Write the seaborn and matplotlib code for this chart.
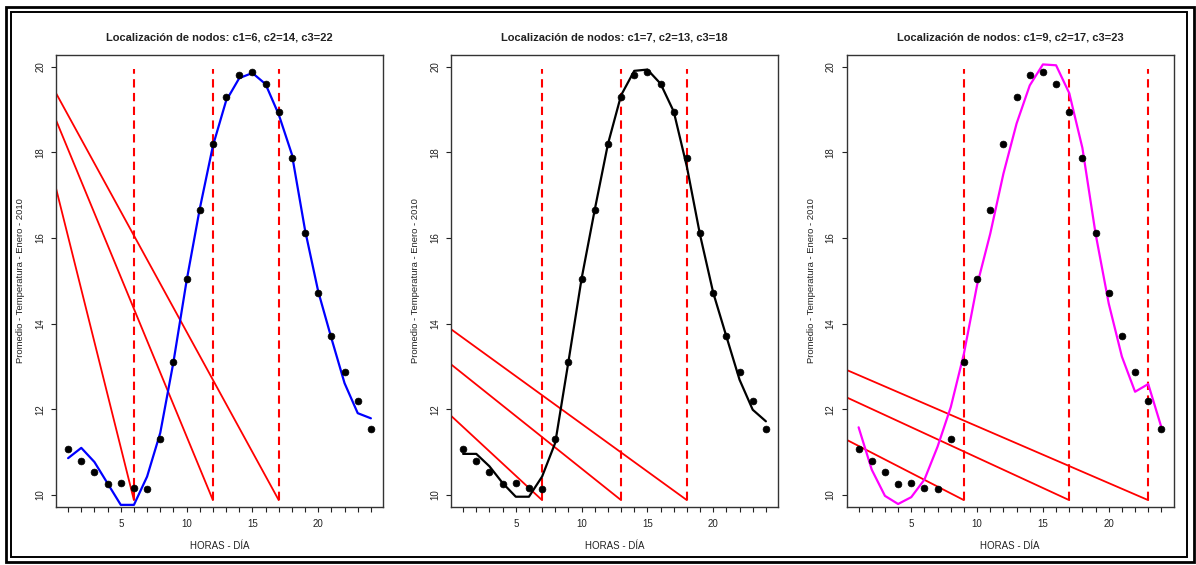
import numpy as np
import pandas as pd
import matplotlib
matplotlib.use("Agg")
import matplotlib.pyplot as plt
import seaborn as sns
from matplotlib.patches import Rectangle

# ---------------- data ----------------
hours = list(range(1, 25))
temp_mean = [11.07, 10.79, 10.54, 10.26, 10.28, 10.16, 10.13, 11.31, 13.11, 15.05, 16.66, 18.19,
             19.28, 19.81, 19.87, 19.60, 18.95, 17.87, 16.11, 14.72, 13.70, 12.86, 12.20, 11.54]

fit_1 = [10.86, 11.10, 10.77, 10.27, 9.77, 9.77, 10.43, 11.45, 13.10, 15.00, 16.68, 18.15,
         19.20, 19.73, 19.85, 19.59, 18.88, 17.95, 16.18, 14.75, 13.66, 12.61, 11.91, 11.79]
fit_2 = [10.96, 10.96, 10.67, 10.28, 9.96, 9.96, 10.43, 11.22, 13.11, 15.05, 16.66, 18.19,
         19.33, 19.90, 19.93, 19.60, 18.95, 17.66, 16.07, 14.72, 13.70, 12.69, 11.99, 11.72]
fit_3 = [11.58, 10.59, 9.98, 9.79, 9.95, 10.36, 11.13, 12.05, 13.30, 14.90, 16.10, 17.50,
         18.67, 19.56, 20.05, 20.03, 19.38, 18.10, 16.10, 14.47, 13.23, 12.41, 12.59, 11.58]

titles = ["Localización de nodos: c1=6, c2=14, c3=22",
          "Localización de nodos: c1=7, c2=13, c3=18",
          "Localización de nodos: c1=9, c2=17, c3=23"]
knots_1 = [6, 12, 17]
knots_2 = [7, 13, 18]
knots_3 = [9, 17, 23]
red_start_1 = [17.16, 18.75, 19.38]
red_start_2 = [11.85, 13.05, 13.87]
red_start_3 = [11.29, 12.28, 12.92]
red_end = 9.88
vline_top = 19.94

fit_colors = ["#0000FF", "#000000", "#FF00FF"]
xlabel = "HORAS - DÍA"
ylabel = "Promedio - Temperatura - Enero - 2010"
yticks = [10, 12, 14, 16, 18, 20]
xticks_lab = [5, 10, 15, 20]

# ---------------- figure ----------------
sns.set_theme(style="ticks")
plt.rcParams['font.family'] = ['Liberation Sans', 'DejaVu Sans']

W, H = 1196, 565
fig = plt.figure(figsize=(W / 100, H / 100), dpi=100)
fig.patch.set_facecolor("white")

# double frame
fig.patches.append(Rectangle((5.5 / W, 3.5 / H), 1188 / W, 555 / H, transform=fig.transFigure,
                             fill=False, lw=2.0, ec="black"))
fig.patches.append(Rectangle((11 / W, 8 / H), 1176 / W, 545 / H, transform=fig.transFigure,
                             fill=False, lw=1.4, ec="black"))

lefts = [56, 451, 846.5]
ax_w, ax_top, ax_bot = 327, 55, 507

fits = [fit_1, fit_2, fit_3]
knots = [knots_1, knots_2, knots_3]
starts = [red_start_1, red_start_2, red_start_3]

xmin, xmax = 0.08, 24.92
ymin, ymax = 9.72, 20.27

for i in range(3):
    ax = fig.add_axes([lefts[i] / W, (H - ax_bot) / H, ax_w / W, (ax_bot - ax_top) / H])
    df = pd.DataFrame({"hora": hours, "temp": temp_mean, "fit": fits[i]})

    # red solid lines from left edge to knot
    for s, k in zip(starts[i], knots[i]):
        ax.plot([xmin, k], [s, red_end], color="#FF0000", lw=1.3, zorder=2)
    # dashed vertical lines at knots
    for k in knots[i]:
        ax.plot([k, k], [red_end, vline_top], color="#FF0000", lw=1.5,
                linestyle=(0, (4, 2.6)), zorder=2)

    sns.lineplot(data=df, x="hora", y="fit", color=fit_colors[i], lw=1.6, ax=ax, zorder=3)
    sns.scatterplot(data=df, x="hora", y="temp", color="black", s=24, edgecolor="black",
                    linewidth=0.5, ax=ax, zorder=4)

    ax.set_xlim(xmin, xmax)
    ax.set_ylim(ymin, ymax)
    ax.set_xticks(hours)
    ax.set_xticklabels([str(h) if h in xticks_lab else "" for h in hours])
    ax.set_yticks(yticks)
    ax.set_yticklabels([str(v) for v in yticks], rotation=90, va="center")
    ax.tick_params(axis="both", length=3.8, width=0.8, color="#222222", labelsize=7,
                   labelcolor="#222222", direction="out")
    ax.tick_params(axis="x", pad=4.5)
    ax.tick_params(axis="y", pad=4)
    for sp in ax.spines.values():
        sp.set_visible(True)
        sp.set_color("#333333")
        sp.set_linewidth(1.0)
    ax.set_xlabel(xlabel, fontsize=7, color="#222222", labelpad=9)
    ax.set_ylabel(ylabel, fontsize=6.8, color="#222222", labelpad=7)
    ax.set_title(titles[i], fontsize=8, fontweight="bold", color="#222222", pad=10.5)
    ax.set_facecolor("white")

fig.savefig("out.png", dpi=100)
